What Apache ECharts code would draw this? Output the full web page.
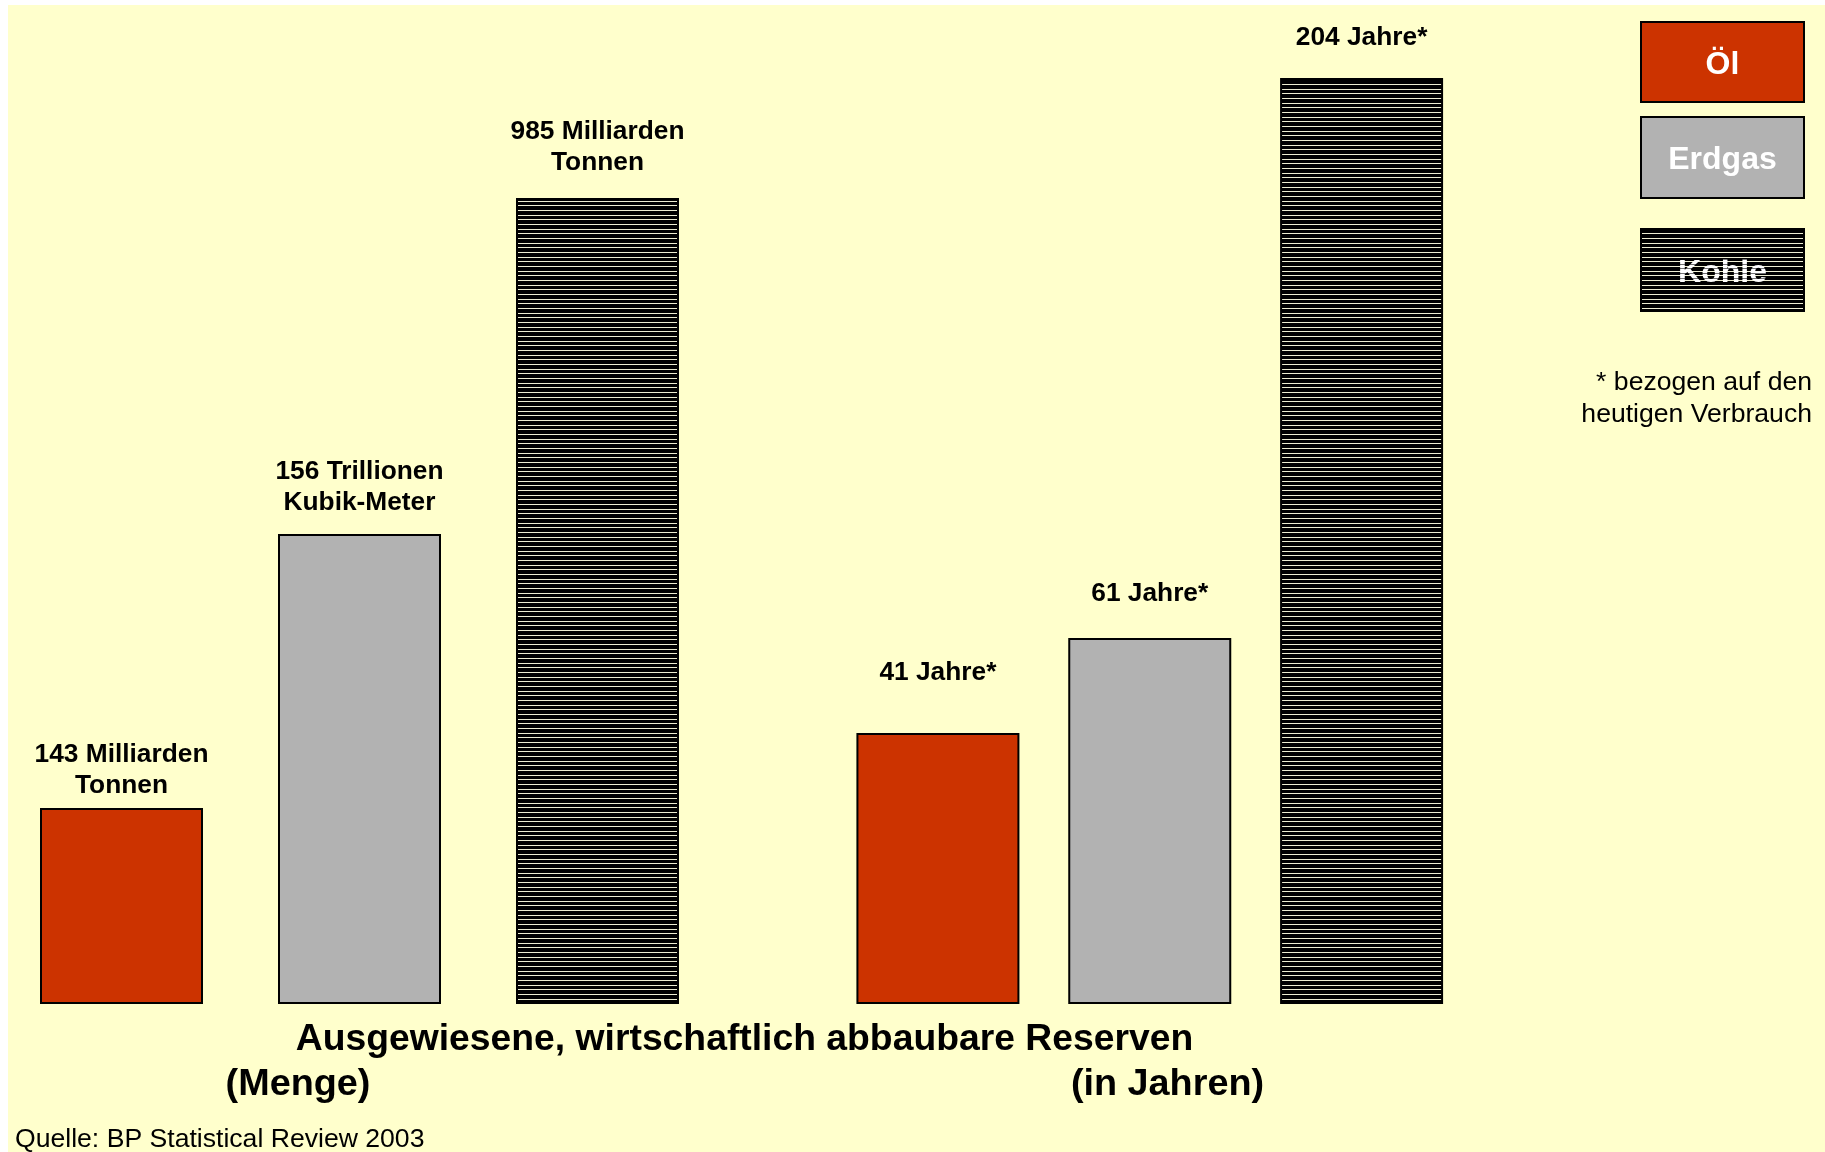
<!DOCTYPE html>
<html>
<head>
<meta charset="utf-8">
<script src="https://cdn.jsdelivr.net/npm/echarts@6/dist/echarts.min.js"></script>
<style>
html,body{margin:0;padding:0;background:#fff;}
#chart{width:1825px;height:1152px;}
</style>
</head>
<body>
<div id="chart"></div>
<script>
// ---- data ----
const categories = ['Öl', 'Erdgas', 'Kohle'];
// reserves (amount) and their units
const mengeValues = [143, 156, 985];
const mengeUnits = ['Milliarden\nTonnen', 'Trillionen\nKubik-Meter', 'Milliarden\nTonnen'];
// reserves in years
const jahreValues = [41, 61, 204];
const jahreUnits = ['Jahre*', 'Jahre*', 'Jahre*'];
// drawn bar heights (bars are not to scale), in % of plot height
const mengeHeights = [19.6, 47.0, 80.6];
const jahreHeights = [27.1, 36.6, 92.6];

const titleMain = 'Ausgewiesene, wirtschaftlich abbaubare Reserven';
const subLeft = '(Menge)';
const subRight = '(in Jahren)';
const source = 'Quelle: BP Statistical Review 2003';
const footnote = ['* bezogen auf den', 'heutigen Verbrauch'];

// ---- styles ----
const FONT = '"Liberation Sans", Arial, Helvetica, sans-serif';
const mengeLabelGap = [7, 16, 20];
const jahreLabelGap = [45, 29, 25];

function hatch() {
  const c = document.createElement('canvas');
  c.width = 4; c.height = 14;
  const g = c.getContext('2d');
  g.fillStyle = '#000'; g.fillRect(0, 0, 4, 14);
  g.fillStyle = '#EEEED2';
  [0, 5, 9].forEach(y => g.fillRect(0, y, 4, 1));
  return c;
}
function overlayLines() {
  const c = document.createElement('canvas');
  c.width = 4; c.height = 14;
  const g = c.getContext('2d');
  g.fillStyle = 'rgba(0,0,0,0.55)';
  [2, 7, 12].forEach(y => g.fillRect(0, y, 4, 1));
  return c;
}
const hatchCanvas = hatch();
const colorMap = {
  'Öl': '#CC3300',
  'Erdgas': '#B2B2B2',
  'Kohle': { image: hatchCanvas, repeat: 'repeat' }
};

function buildData(heights, values, units, gaps) {
  return categories.map((c, i) => ({
    value: heights[i],
    name: c,
    itemStyle: { color: colorMap[c], borderColor: '#000', borderWidth: 2 },
    label: { distance: gaps[i], formatter: values[i] + ' ' + units[i] }
  }));
}

const labelStyle = {
  show: true, position: 'top', color: '#000', fontFamily: FONT,
  fontSize: 26.3, fontWeight: 'bold', lineHeight: 31, align: 'center'
};

const legendBoxes = [
  { name: 'Öl', y: 22, h: 80 },
  { name: 'Erdgas', y: 117, h: 81 },
  { name: 'Kohle', y: 229, h: 82 }
];
const legendGraphics = [];
legendBoxes.forEach(b => {
  legendGraphics.push({
    type: 'rect', z: 10,
    shape: { x: 1641, y: b.y, width: 163, height: b.h },
    style: { fill: colorMap[b.name], stroke: '#000', lineWidth: 2 }
  });
  legendGraphics.push({
    type: 'text', z: 11,
    style: { text: b.name, x: 1722.5, y: b.y + b.h / 2 + 3, textAlign: 'center', textVerticalAlign: 'middle',
      font: 'bold 32px ' + FONT, fill: '#fff' }
  });
  if (b.name === 'Kohle') {
    legendGraphics.push({
      type: 'rect', z: 12, silent: true,
      shape: { x: 1642, y: b.y + 1, width: 161, height: b.h - 2 },
      style: { fill: { image: overlayLines(), repeat: 'repeat' } }
    });
  }
});

const chart = echarts.init(document.getElementById('chart'), null, { renderer: 'canvas' });
chart.setOption({
  backgroundColor: '#ffffff',
  animation: false,
  grid: [
    { left: 2.5, top: 4, width: 714, height: 1000 },
    { left: 832, top: 4, width: 635.5, height: 1000 }
  ],
  xAxis: [
    { type: 'category', gridIndex: 0, data: categories, show: false },
    { type: 'category', gridIndex: 1, data: categories, show: false }
  ],
  yAxis: [
    { type: 'value', gridIndex: 0, min: 0, max: 100, show: false },
    { type: 'value', gridIndex: 1, min: 0, max: 100, show: false }
  ],
  series: [
    { type: 'bar', name: 'Menge', xAxisIndex: 0, yAxisIndex: 0, barWidth: 163,
      label: labelStyle, data: buildData(mengeHeights, mengeValues, mengeUnits, mengeLabelGap) },
    { type: 'bar', name: 'Jahre', xAxisIndex: 1, yAxisIndex: 1, barWidth: 163,
      label: labelStyle, data: buildData(jahreHeights, jahreValues, jahreUnits, jahreLabelGap) }
  ],
  graphic: [
    { type: 'rect', z: -100, silent: true, shape: { x: 8, y: 5, width: 1817, height: 1147 }, style: { fill: '#FFFFCC' } },
    { type: 'text', z: 10, style: { text: titleMain, x: 744.5, y: 1039.5, textAlign: 'center', textVerticalAlign: 'middle', font: 'bold 37.3px ' + FONT, fill: '#000' } },
    { type: 'text', z: 10, style: { text: subLeft, x: 298, y: 1084.5, textAlign: 'center', textVerticalAlign: 'middle', font: 'bold 37.8px ' + FONT, fill: '#000' } },
    { type: 'text', z: 10, style: { text: subRight, x: 1167.5, y: 1084.5, textAlign: 'center', textVerticalAlign: 'middle', font: 'bold 37.8px ' + FONT, fill: '#000' } },
    { type: 'text', z: 10, style: { text: source, x: 15, y: 1140, textAlign: 'left', textVerticalAlign: 'middle', font: '26.6px ' + FONT, fill: '#000' } },
    { type: 'text', z: 10, style: { text: footnote[0], x: 1812, y: 382.5, textAlign: 'right', textVerticalAlign: 'middle', font: '26.6px ' + FONT, fill: '#000' } },
    { type: 'text', z: 10, style: { text: footnote[1], x: 1812, y: 415, textAlign: 'right', textVerticalAlign: 'middle', font: '26.6px ' + FONT, fill: '#000' } }
  ].concat(legendGraphics)
});
</script>
</body>
</html>
